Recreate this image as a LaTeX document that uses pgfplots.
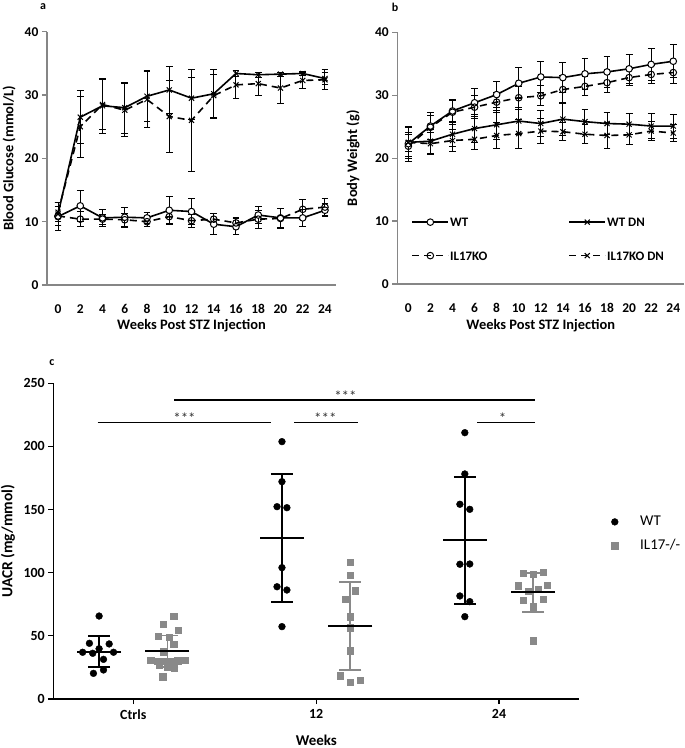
\documentclass[border=0pt]{standalone}
\usepackage{pgfplots}
\pgfplotsset{compat=1.18}
\usepackage{fontspec}
\setmainfont{Carlito}
\definecolor{axgray}{RGB}{134,134,134}
\definecolor{sqgray}{RGB}{137,137,137}

\newcommand{\labfont}{\bfseries\fontsize{14.5}{14.5}\selectfont}
\pgfplotsset{
  panelab/.style={
    scale only axis,
    axis x line*=bottom, axis y line*=left,
    axis line style={axgray, line width=1.2bp},
    xmin=-1, xmax=25, ymin=0, ymax=40,
    xtick={0,2,...,24}, ytick={0,10,...,40},
    major x tick style={draw=none},
    major y tick style={axgray, line width=1.2bp},
    tick align=outside, major tick length=5bp,
    tick label style={font=\bfseries\fontsize{13.5}{13.5}\selectfont, text=black},
    /pgf/number format/assume math mode=true,
    xticklabel style={yshift=-11bp},
  },
  wt/.style={black, solid, line width=1.6bp, mark=*, mark size=3.3bp, mark options={solid, fill=white, draw=black, line width=1bp}},
  ko/.style={black, dash pattern=on 7bp off 5bp, line width=1.6bp, mark=o, mark size=3.3bp, mark options={solid, line width=1bp}},
  wtdn/.style={black, solid, line width=1.6bp, mark=x, mark size=3.6bp, mark options={solid, line width=1bp}},
  kodn/.style={black, dash pattern=on 7bp off 5bp, line width=1.6bp, mark=x, mark size=3.6bp, mark options={solid, line width=1bp}},
  eb/.style={error bars/.cd, y dir=both, y explicit,
    error bar style={line width=1bp, solid, black},
    error mark options={rotate=90, mark size=3.4bp, line width=1bp, solid, black}},
}

\begin{document}
\begin{tikzpicture}[x=1bp,y=1bp]
\useasboundingbox (0bp,0bp) rectangle (685bp,748bp);

% ---------------- Panel a ----------------
\begin{axis}[panelab,
  at={(46.9bp,463bp)}, anchor=south west,
  width=289.2bp, height=253.3bp,
  xlabel={Weeks Post STZ Injection},
  ylabel={Blood Glucose (mmol/L)},
  every axis x label/.style={at={(axis description cs:0.5,-0.162)}, anchor=center, font=\labfont},
  every axis y label/.style={at={(axis description cs:-0.131,0.5)}, rotate=90, anchor=center, font=\labfont},
]
\addplot[wt, eb] table[x=x, y=y, y error=e] {
x y e
0 10.8 2.2
2 12.5 2.5
4 10.6 1.35
6 10.7 1.6
8 10.6 0.9
10 11.8 2.1
12 11.6 2.1
14 9.6 1.7
16 9.2 1.3
18 11.05 1.4
20 10.6 1.5
22 10.6 1.4
24 11.8 1.0
};
\addplot[ko, eb] table[x=x, y=y, y error=e] {
x y e
0 10.9 1.5
2 10.4 1.2
4 10.4 0.8
6 10.3 1.0
8 10.0 0.8
10 10.8 1.2
12 10.15 1.0
14 10.4 0.9
16 9.8 0.8
18 10.4 1.4
20 10.5 1.6
22 11.95 1.6
24 12.3 1.4
};
\addplot[wtdn, eb] table[x=x, y=y, y error=e] {
x y e
0 11.2 1.8
2 26.5 4.2
4 28.3 4.3
6 28.0 4.0
8 29.8 4.0
10 30.8 3.7
12 29.5 3.3
14 30.2 3.9
16 33.4 0.4
18 33.2 0.4
20 33.3 0.3
22 33.4 0.3
24 32.6 1.0
};
\addplot[kodn, eb] table[x=x, y=y, y error=e] {
x y e
0 11.5 1.5
2 25.0 4.8
4 28.5 4.0
6 27.6 4.2
8 29.3 4.4
10 26.6 5.7
12 26.0 8.0
14 29.9 3.4
16 31.6 2.2
18 31.8 1.8
20 31.1 2.5
22 32.3 1.3
24 32.4 1.6
};
\end{axis}

% ---------------- Panel b ----------------
\begin{axis}[panelab,
  at={(397.3bp,464bp)}, anchor=south west,
  width=287bp, height=251.7bp,
  xlabel={Weeks Post STZ Injection},
  ylabel={Body Weight (g)},
  every axis x label/.style={at={(axis description cs:0.5,-0.167)}, anchor=center, font=\labfont},
  every axis y label/.style={at={(axis description cs:-0.154,0.5)}, rotate=90, anchor=center, font=\labfont},
  legend columns=2,
  legend cell align=left,
  legend image code/.code={\draw[mark repeat=2,mark phase=2,#1] plot coordinates {(0bp,0bp)(18bp,0bp)(36bp,0bp)};},
  legend style={draw=none, fill=none, at={(axis cs:0.0,7.17)}, anchor=west,
    font=\bfseries\fontsize{13}{13}\selectfont,
    nodes={inner xsep=1bp, inner ysep=2bp, text height=9.5bp, text depth=0bp},
    row sep=20bp,
    /tikz/every even column/.append style={column sep=80bp}},
]
\addplot[wt, eb] table[x=x, y=y, y error=e] {
x y e
0 22.3 2.8
2 25.1 2.1
4 27.5 1.8
6 28.8 2.2
8 30.1 2.1
10 31.9 2.5
12 32.9 2.4
14 32.8 2.4
16 33.4 2.5
18 33.7 2.5
20 34.2 2.3
22 34.9 2.5
24 35.4 2.6
};
\addlegendentry{WT}
\addplot[wtdn, eb] table[x=x, y=y, y error=e] {
x y e
0 22.5 1.5
2 22.7 1.9
4 23.8 2.0
6 24.7 2.2
8 25.3 2.3
10 25.9 2.2
12 25.5 2.0
14 26.2 2.6
16 25.8 2.0
18 25.5 1.7
20 25.4 1.7
22 25.1 2.0
24 25.1 1.9
};
\addlegendentry{WT DN}
\addplot[ko, eb] table[x=x, y=y, y error=e] {
x y e
0 21.9 1.9
2 24.9 1.9
4 27.3 1.9
6 28.1 1.8
8 28.9 1.6
10 29.6 1.8
12 29.9 1.6
14 30.9 2.2
16 31.4 1.5
18 32.0 1.5
20 32.8 1.3
22 33.3 1.5
24 33.6 1.7
};
\addlegendentry{IL17KO}
\addplot[kodn, eb] table[x=x, y=y, y error=e] {
x y e
0 22.5 2.3
2 22.3 1.7
4 22.8 1.7
6 23.0 1.7
8 23.6 2.0
10 23.9 2.3
12 24.3 2.0
14 24.2 1.4
16 23.8 1.5
18 23.6 2.0
20 23.7 1.6
22 24.3 1.5
24 24.0 1.3
};
\addlegendentry{IL17KO DN}
\end{axis}

% ---------------- Panel c ----------------
\begin{axis}[
  scale only axis,
  at={(53.3bp,49bp)}, anchor=south west,
  width=526bp, height=315.7bp,
  xmin=-0.4375, xmax=2.439, ymin=0, ymax=250,
  axis x line*=bottom, axis y line*=left,
  axis line style={black, line width=1.2bp},
  xtick={0,1,2}, xticklabels={Ctrls,12,24},
  ytick={0,50,...,250},
  tick align=outside, major tick length=5bp,
  tick style={black, line width=1.2bp},
  tick label style={font=\bfseries\fontsize{14}{14}\selectfont},
  /pgf/number format/assume math mode=true,
  xticklabel style={yshift=-2bp},
  xlabel={Weeks}, ylabel={UACR (mg/mmol)},
  every axis x label/.style={at={(axis description cs:0.5,-0.13)}, anchor=center, inner sep=0pt, font=\bfseries\fontsize{15}{15}\selectfont},
  every axis y label/.style={at={(axis description cs:-0.086,0.5)}, rotate=90, anchor=center, font=\bfseries\fontsize{15.5}{15.5}\selectfont},
  legend cell align=left,
  legend image code/.code={\draw[#1] plot coordinates {(5bp,0bp)};},
  legend style={draw=none, fill=none, at={(rel axis cs:1.055,0.523)}, anchor=west,
    font=\fontsize{15}{15}\selectfont,
    nodes={inner ysep=2bp, text height=11bp, text depth=3bp},
    row sep=6bp, column sep=20bp},
]
\addplot[only marks, mark=*, mark size=3.4bp, black] table {
-0.187 65.7
-0.240 44.1
-0.132 43.6
-0.187 39.8
-0.277 37.0
-0.222 36.2
-0.108 37.0
-0.163 31.4
-0.218 20.3
-0.163 23.0
0.813 203.8
0.813 172.1
0.786 152.3
0.840 151.5
0.813 104.0
0.786 88.9
0.840 86.3
0.813 57.3
1.813 210.9
1.813 178.2
1.786 154.2
1.840 150.2
1.786 106.7
1.840 106.9
1.786 81.6
1.840 77.1
1.813 65.2
};
\addlegendentry{WT}
\addplot[only marks, mark=square*, mark size=3.2bp, sqgray, mark options={draw=sqgray, fill=sqgray}] table {
0.220 65.7
0.165 59.4
0.245 54.6
0.136 49.9
0.196 48.9
0.220 43.6
0.165 37.5
0.096 30.5
0.132 30.0
0.169 29.8
0.205 30.0
0.242 30.2
0.282 30.5
0.141 26.9
0.187 25.0
0.223 24.3
0.160 17.7
1.187 108.2
1.187 98.2
1.214 85.8
1.160 78.9
1.187 65.2
1.187 56.5
1.187 38.3
1.132 18.5
1.187 13.2
1.242 15.0
2.132 99.5
2.187 98.7
2.242 100.6
2.105 89.7
2.265 90.3
2.160 85.5
2.214 86.8
2.132 78.4
2.242 79.2
2.187 73.1
2.187 46.2
};
\addlegendentry{IL17-/-}
% WT mean +- SD
\addplot[forget plot, only marks, mark=-, mark size=22bp, mark options={black, line width=1.8bp},
  error bars/.cd, y dir=both, y explicit,
  error bar style={line width=1.8bp, black},
  error mark options={rotate=90, mark size=11bp, line width=1.8bp, black}]
  table[x=x, y=m, y error plus=ep, y error minus=em] {
x m ep em
-0.187 37.5 12.6 12.4
0.813 127.2 50.7 50.6
1.813 125.9 49.6 50.4
};
% IL17 mean +- SD
\addplot[forget plot, only marks, mark=-, mark size=22bp, mark options={black, line width=1.8bp},
  error bars/.cd, y dir=both, y explicit,
  error bar style={line width=1.8bp, sqgray},
  error mark options={rotate=90, mark size=11bp, line width=1.8bp, sqgray}]
  table[x=x, y=m, y error plus=ep, y error minus=em] {
x m ep em
0.187 37.8 12.5 12.5
1.187 57.5 35.4 34.5
2.187 84.5 15.0 15.9
};
% significance bars
\addplot[forget plot, black, line width=1.2bp] coordinates {(-0.195,219.1) (0.752,219.1)};
\addplot[forget plot, black, line width=1.2bp] coordinates {(0.881,219.1) (1.228,219.1)};
\addplot[forget plot, black, line width=1.2bp] coordinates {(0.223,236.8) (2.197,236.8)};
\addplot[forget plot, black, line width=1.2bp] coordinates {(1.880,219.1) (2.197,219.1)};
\node[anchor=base, inner sep=0pt, font=\fontsize{15}{15}\selectfont, text=black!80] at (axis cs:0.28,218.0) {***};
\node[anchor=base, inner sep=0pt, font=\fontsize{15}{15}\selectfont, text=black!80] at (axis cs:1.05,218.0) {***};
\node[anchor=base, inner sep=0pt, font=\fontsize{15}{15}\selectfont, text=black!80] at (axis cs:1.16,235.7) {***};
\node[anchor=base, inner sep=0pt, font=\fontsize{15}{15}\selectfont, text=black!80] at (axis cs:2.02,218.0) {*};
\end{axis}

% panel letters
\node[font=\bfseries\fontsize{12}{12}\selectfont] at (43bp,741bp) {a};
\node[font=\bfseries\fontsize{12}{12}\selectfont] at (395bp,741bp) {b};
\node[font=\bfseries\fontsize{12}{12}\selectfont] at (52bp,385bp) {c};
\end{tikzpicture}
\end{document}
